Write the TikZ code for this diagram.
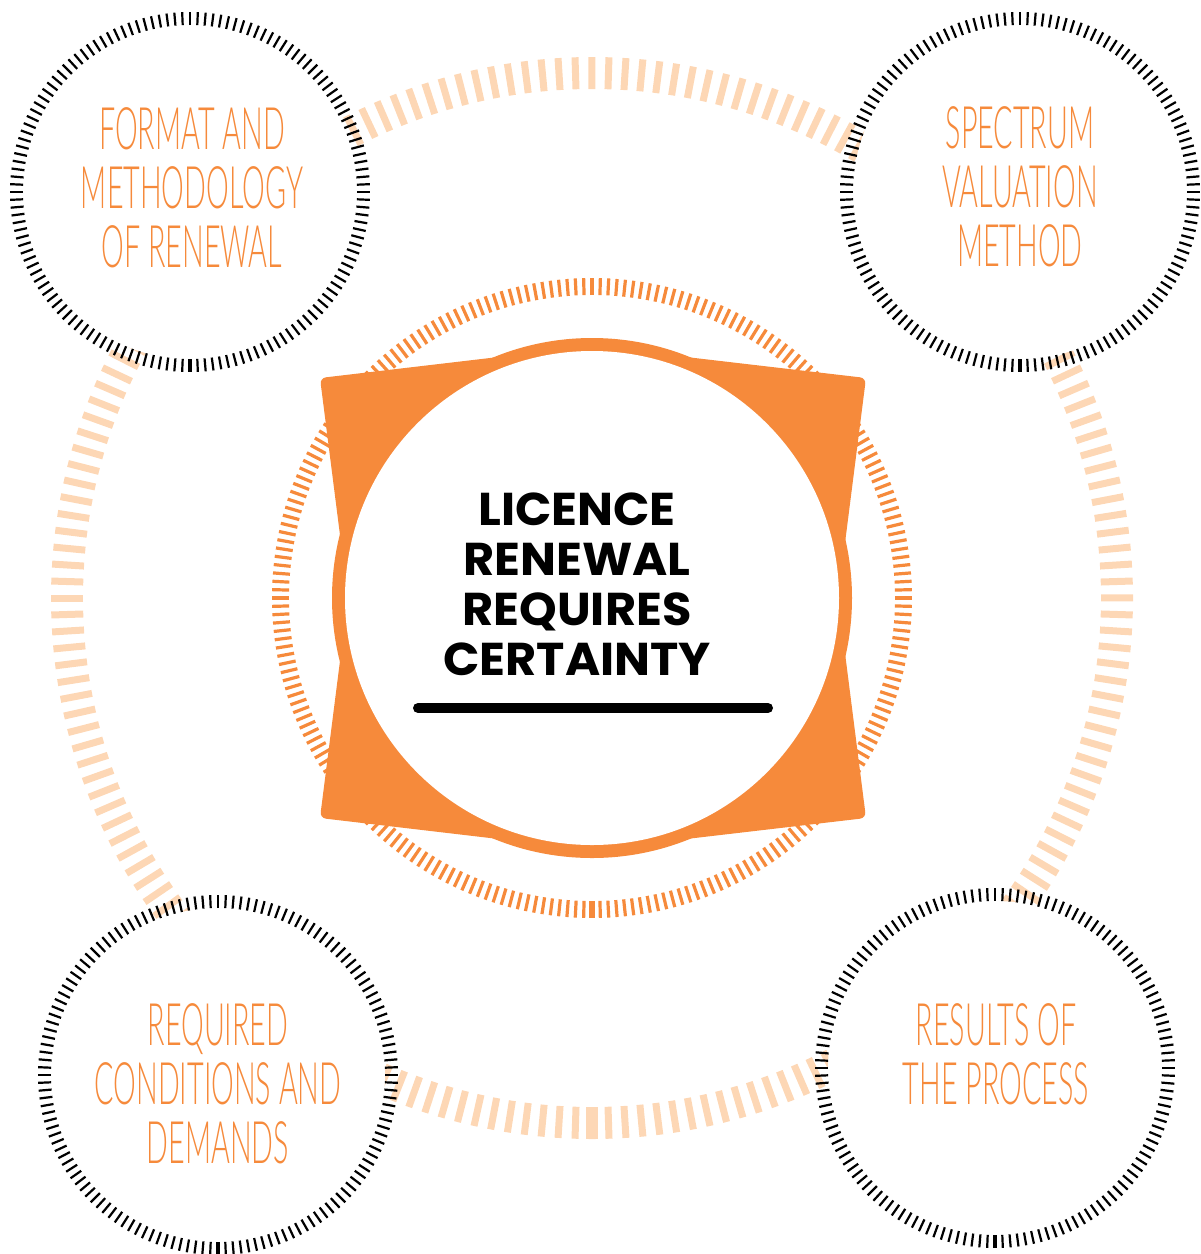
\documentclass[tikz,border=0pt]{standalone}
\usepackage{fontspec}
\setmainfont{Liberation Sans}
\IfFontExistsTF{Lato Light}
  {\newfontfamily\condfont[FakeStretch=0.49]{Lato Light}}
  {\newfontfamily\condfont[FakeStretch=0.46]{Liberation Sans}}
\newfontfamily\headfont[FakeStretch=1.04]{Poppins}
\usetikzlibrary{calc}
\definecolor{brandorange}{HTML}{F68A3B}
\definecolor{paleorange}{HTML}{FDD7B5}
\newcommand\tickring[7]{%
  \pgfmathsetmacro\tickstep{360/#2}%
  \foreach \k in {1,...,#2}{%
    \pgfmathsetmacro\ang{90+\k*\tickstep}%
    \draw[#7, line width=#5] ($(#1)+(\ang:#3)$) -- ($(#1)+(\ang:#4)$);}%
  \draw[#7, line width=#6] ($(#1)+(90:#3)$) -- ($(#1)+(90:#4)$);}
\tikzset{
  bubble/.style={circle, fill=white, minimum size=334, inner sep=0pt},
  bubbletext/.style={text=brandorange, align=center, inner sep=0pt,
    font=\condfont\fontsize{58.6}{59}\selectfont},
  headline/.style={align=center, text=black,
    font=\headfont\bfseries\fontsize{46}{50}\selectfont},
}
\begin{document}
\begin{tikzpicture}[x=1pt, y=-1pt]
\useasboundingbox (0,0) rectangle (1201,1254);
\coordinate (hub) at (592,598);
% big pale ring
\tickring{hub}{200}{509}{541}{7}{12}{paleorange}
% middle orange ring
\tickring{hub}{240}{303}{320}{3.2}{6}{brandorange}
% central star shape
\fill[brandorange, rounded corners=6] (320,378) -- (592,346) -- (866,378) -- (838,598)
  -- (866,818) -- (592,850) -- (320,818) -- (348,598) -- cycle;
\fill[brandorange] (hub) circle (260);
\node[circle, fill=white, minimum size=494, inner sep=0pt] (core) at (hub) {};
\node[headline] (title) at (577,584) {LICENCE\\RENEWAL\\REQUIRES\\CERTAINTY};
\coordinate (barL) at (418,708);
\coordinate (barR) at (768,708);
\draw[line width=10, line cap=round] (barL) -- (barR);
% four outer circles
\node[bubble] (fmt) at (190,192) {};
\node[bubble] (spec) at (1020,192) {};
\node[bubble] (req) at (218,1075) {};
\node[bubble] (res) at (995,1068) {};
\node[bubbletext] (fmtText) at (192,188) {FORMAT AND\\METHODOLOGY\\OF RENEWAL};
\node[bubbletext] (specText) at (1020,187) {SPECTRUM\\VALUATION\\METHOD};
\node[bubbletext] (reqText) at (218,1084) {REQUIRED\\CONDITIONS AND\\DEMANDS};
\node[bubbletext] (resText) at (996,1054) {RESULTS OF\\THE PROCESS};
\tickring{fmt}{144}{167}{180}{2.2}{4.5}{black}
\tickring{spec}{144}{167}{180}{2.2}{4.5}{black}
\tickring{req}{144}{167}{180}{2.2}{4.5}{black}
\tickring{res}{144}{167}{180}{2.2}{4.5}{black}
\end{tikzpicture}
\end{document}
